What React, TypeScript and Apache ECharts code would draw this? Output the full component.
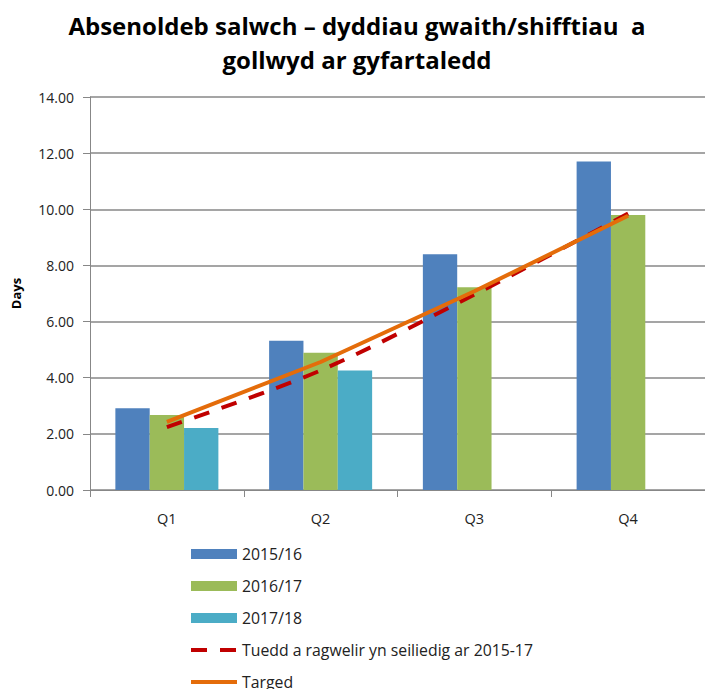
import React, { useEffect, useRef } from "react";
import * as echarts from "echarts";

const categories = ["Q1", "Q2", "Q3", "Q4"];
const s1516 = [2.91, 5.32, 8.4, 11.7];
const s1617 = [2.67, 4.89, 7.22, 9.8];
const s1718: (number | null)[] = [2.21, 4.26, null, null];
const trend = [2.24, 4.26, 6.96, 9.85];
const target = [2.43, 4.56, 7.08, 9.77];
const yTicks = { min: 0, max: 14, interval: 2 };
const titleLines = ["Absenoldeb salwch – dyddiau gwaith/shifftiau  a", "gollwyd ar gyfartaledd"];

const FONT = "Open Sans";
const TREND = "Tuedd a ragwelir yn seiliedig ar 2015-17";

export default function App() {
  const ref = useRef<HTMLDivElement>(null);
  useEffect(() => {
    document.body.style.margin = "0";
    const chart = echarts.init(ref.current!, null, { renderer: "svg" });
    chart.setOption({
      animation: false,
      backgroundColor: "#ffffff",
      textStyle: { fontFamily: FONT },
      graphic: [
        {
          type: "text",
          x: 357,
          y: 8,
          style: {
            text: titleLines.join("\n"),
            fontFamily: FONT,
            fontSize: 24,
            fontWeight: "bold",
            fill: "#000",
            align: "center",
            verticalAlign: "top",
            lineHeight: 34,
          },
        },
      ],
      grid: { left: 90, right: -9, top: 97, bottom: 199, containLabel: false },
      xAxis: {
        type: "category",
        data: categories,
        axisLine: { lineStyle: { color: "#878787", width: 1 } },
        axisTick: { show: true, length: 7, lineStyle: { color: "#878787" } },
        axisLabel: { color: "#222", fontSize: 14.5, margin: 21, fontFamily: FONT },
      },
      yAxis: {
        type: "value",
        min: yTicks.min,
        max: yTicks.max,
        interval: yTicks.interval,
        name: "Days",
        nameLocation: "middle",
        nameRotate: 90,
        nameGap: 68,
        nameTextStyle: { fontSize: 13, fontWeight: "bold", color: "#000", fontFamily: FONT },
        axisLine: { show: true, lineStyle: { color: "#878787", width: 1 } },
        axisTick: { show: true, length: 7, lineStyle: { color: "#878787" } },
        axisLabel: { color: "#222", fontSize: 14, margin: 16, fontFamily: FONT, formatter: (v: number) => v.toFixed(2) },
        splitLine: { lineStyle: { color: "#878787", width: 1.5 } },
      },
      legend: {
        orient: "vertical",
        left: 189,
        top: 546,
        height: 300,
        padding: 0,
        itemWidth: 46,
        itemHeight: 10,
        itemGap: 16,
        textStyle: { fontSize: 15.8, color: "#222", fontFamily: FONT },
        data: [
          { name: "2015/16", icon: "rect" },
          { name: "2016/17", icon: "rect" },
          { name: "2017/18", icon: "rect" },
          { name: TREND, itemStyle: { opacity: 0 }, lineStyle: { width: 4 } },
          { name: "Targed", itemStyle: { opacity: 0 }, lineStyle: { width: 4 } },
        ],
      },
      series: [
        { name: "2015/16", type: "bar", data: s1516, barGap: "0%", barCategoryGap: "33%", itemStyle: { color: "#4F81BD" } },
        { name: "2016/17", type: "bar", data: s1617, itemStyle: { color: "#9BBB59" } },
        { name: "2017/18", type: "bar", data: s1718, itemStyle: { color: "#4BACC6" } },
        {
          name: TREND,
          type: "line",
          data: trend,
          smooth: 0.3,
          symbol: "none",
          lineStyle: { color: "#C00000", width: 4, type: [16, 13] },
          itemStyle: { color: "#C00000" },
          z: 3,
        },
        {
          name: "Targed",
          type: "line",
          data: target,
          symbol: "none",
          lineStyle: { color: "#E46C0A", width: 4 },
          itemStyle: { color: "#E46C0A" },
          z: 4,
        },
      ],
    });
    return () => chart.dispose();
  }, []);
  return <div ref={ref} style={{ width: 705, height: 689, overflow: "hidden" }} />;
}
